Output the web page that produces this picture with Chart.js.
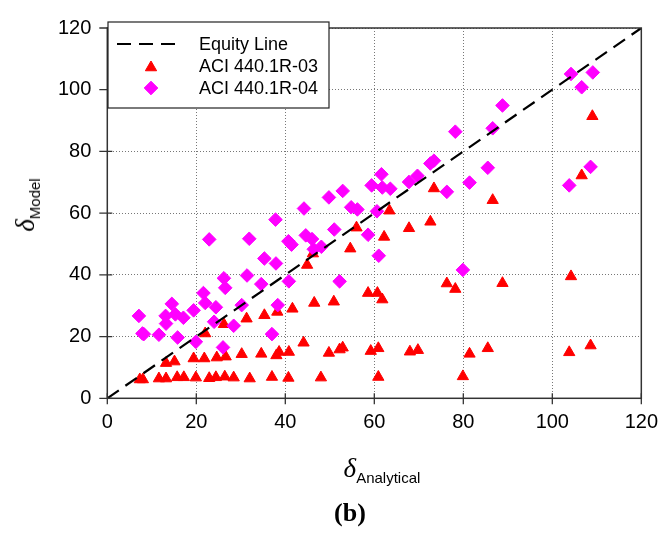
<!DOCTYPE html>
<html>
<head>
<meta charset="utf-8">
<script src="https://cdn.jsdelivr.net/npm/chart.js@4/dist/chart.umd.min.js"></script>
<style>
  html, body { margin: 0; padding: 0; background: #fff; }
  #wrap { position: relative; width: 670px; height: 540px; }
  #c { position: absolute; left: 0; top: 0; }
  .ttl { position: absolute; white-space: nowrap; color: #000; line-height: 1; }
  .ttl i { font-family: "Liberation Serif", "DejaVu Serif", serif; font-size: 27px; }
  .ttl sub { font-family: "Liberation Sans", Arial, sans-serif; font-size: 15px; vertical-align: -6px; }
  #ytitle { left: 27px; top: 205px; transform: translate(-50%, -50%) rotate(-90deg); }
  #xtitle { left: 382px; top: 470px; transform: translate(-50%, -50%); }
  #cap { position: absolute; left: 350px; top: 513px; transform: translate(-50%, -50%);
         font-family: "Liberation Serif", "DejaVu Serif", serif; font-weight: bold; font-size: 26px; }
</style>
</head>
<body>
<div id="wrap">
  <canvas id="c" width="670" height="540"></canvas>
  <div id="ytitle" class="ttl"><i>δ</i><sub>Model</sub></div>
  <div id="xtitle" class="ttl"><i>δ</i><sub>Analytical</sub></div>
  <div id="cap">(b)</div>
</div>
<script>
// ---- Data ----
const equityX = [0, 120];
const equityY = [0, 120];

const aci03X = [7.3,8.0,11.6,13.2,15.7,17.2,19.9,22.9,24.4,26.4,28.4,32.0,37.0,40.7,48.0,60.9,79.9,
  13.2,15.1,19.4,21.8,24.6,26.6,30.2,34.6,38.0,38.6,40.8,44.1,49.8,52.2,52.9,59.2,60.9,68.0,69.8,81.4,85.5,103.8,108.6,
  22.0,26.2,31.3,35.3,38.2,41.6,46.5,50.9,58.6,60.7,61.8,76.3,78.2,88.8,104.2,
  44.9,46.2,54.6,56.0,62.2,63.4,67.8,72.6,73.4,86.6,106.6,109.0];
const aci03Y = [6.1,6.1,6.4,6.4,6.8,6.8,6.7,6.5,6.8,7.0,6.7,6.4,6.9,6.6,6.7,6.9,7.1,
  11.4,11.9,12.9,12.9,13.2,13.5,14.3,14.4,13.9,15.0,15.0,18.0,14.7,15.8,16.4,15.3,16.2,15.1,15.6,14.4,16.2,14.9,17.1,
  21.0,24.0,25.8,26.9,28.0,29.0,30.9,31.3,34.1,34.1,32.0,37.2,35.4,37.3,39.5,
  43.2,46.9,48.5,55.3,52.3,60.8,55.1,57.2,68.0,64.2,72.2,91.4];

const aci04X = [7.1,7.9,8.2,11.6,13.1,13.2,14.5,15.3,17.1,15.8,19.4,19.9,21.6,22.0,22.9,24.4,24.0,26.0,26.2,26.5,
  28.4,30.2,31.4,31.9,34.6,35.3,37.0,37.8,37.9,38.3,40.8,40.7,41.4,44.2,44.6,46.0,46.4,48.1,49.8,52.9,
  51.0,52.2,54.8,56.2,58.6,59.4,61.6,61.8,63.6,60.6,61.0,67.8,69.7,72.6,73.4,78.2,81.4,76.3,88.8,86.6,
  85.5,79.9,104.2,106.6,109.1,103.8,108.6];
const aci04Y = [26.7,21.0,20.8,20.6,26.7,24.2,30.6,27.2,26.1,19.7,28.5,18.3,34.1,30.9,51.5,29.5,24.8,16.5,38.9,35.8,
  23.5,30.2,39.8,51.7,37.0,45.3,20.8,57.9,43.7,30.2,37.9,50.9,49.8,61.5,52.8,51.6,48.3,49.1,65.1,67.2,
  54.7,37.9,61.9,61.2,53.0,69.0,72.6,68.3,67.9,60.6,46.2,70.1,72.1,76.1,77.0,86.4,69.9,66.9,94.9,87.5,
  74.7,41.6,105.1,100.8,105.6,69.0,75.0];

const seriesNames = ['Equity Line', 'ACI 440.1R-03', 'ACI 440.1R-04'];
const axisMin = 0, axisMax = 120, axisStep = 20;

const pts = (xs, ys) => xs.map((x, i) => ({ x: x, y: ys[i] }));

const FONT = '"Liberation Sans", Arial, sans-serif';

// frame + crossing tick marks
const framePlugin = {
  id: 'frame',
  afterDraw(chart) {
    const { ctx, chartArea: a, scales } = chart;
    ctx.save();
    ctx.strokeStyle = '#333';
    ctx.lineWidth = 1.5;
    ctx.setLineDash([]);
    ctx.strokeRect(a.left, a.top, a.right - a.left, a.bottom - a.top);
    ctx.lineWidth = 1.3;
    ctx.beginPath();
    for (let v = axisMin; v <= axisMax; v += axisStep) {
      const px = scales.x.getPixelForValue(v);
      ctx.moveTo(px, a.bottom - 5); ctx.lineTo(px, a.bottom + 6);
      const py = scales.y.getPixelForValue(v);
      ctx.moveTo(a.left - 8, py); ctx.lineTo(a.left + 5, py);
    }
    ctx.stroke();
    ctx.restore();
  }
};

// legend box inside plot area
const legendPlugin = {
  id: 'boxLegend',
  afterDraw(chart) {
    const { ctx } = chart;
    const ds = chart.data.datasets;
    const x0 = 108, y0 = 22, w = 221, h = 86;
    ctx.save();
    ctx.fillStyle = '#fff';
    ctx.fillRect(x0, y0, w, h);
    ctx.strokeStyle = '#222';
    ctx.lineWidth = 1.2;
    ctx.strokeRect(x0, y0, w, h);
    const rows = [44, 66, 88];
    const symX = 151;
    ctx.font = '18px ' + FONT;
    ctx.textBaseline = 'middle';
    ctx.fillStyle = '#000';
    ds.forEach((d, i) => {
      const y = rows[i];
      if (d.showLine) {
        ctx.save();
        ctx.strokeStyle = d.borderColor;
        ctx.lineWidth = d.borderWidth;
        ctx.setLineDash(d.borderDash);
        ctx.beginPath();
        ctx.moveTo(117, y); ctx.lineTo(178, y);
        ctx.stroke();
        ctx.restore();
      } else {
        ctx.save();
        ctx.fillStyle = d.backgroundColor;
        ctx.strokeStyle = d.borderColor;
        ctx.lineWidth = 1;
        Chart.helpers.drawPoint(ctx, { pointStyle: d.pointStyle, radius: d.pointRadius, borderWidth: 1, rotation: 0 }, symX, y + (d.pointStyle === 'triangle' ? 1.5 : 0));
        ctx.restore();
      }
      ctx.fillStyle = '#000';
      ctx.fillText(d.label, 199, y + 1);
    });
    ctx.restore();
  }
};

const tickFont = { family: FONT, size: 20 };

new Chart(document.getElementById('c').getContext('2d'), {
  type: 'scatter',
  data: {
    datasets: [
      { label: seriesNames[0], data: pts(equityX, equityY), showLine: true, borderColor: '#000',
        backgroundColor: '#000', borderWidth: 2.2, borderDash: [14, 8], pointRadius: 0, order: 0 },
      { label: seriesNames[1], data: pts(aci03X, aci03Y), pointStyle: 'triangle', pointRadius: 6.5,
        backgroundColor: '#ff0000', borderColor: '#ff0000', borderWidth: 1, order: 2 },
      { label: seriesNames[2], data: pts(aci04X, aci04Y), pointStyle: 'rectRot', pointRadius: 6.8,
        backgroundColor: '#ff00ff', borderColor: '#ff00ff', borderWidth: 1, order: 1 }
    ]
  },
  options: {
    responsive: false,
    animation: false,
    devicePixelRatio: 1,
    layout: { padding: { top: 23, right: 23, left: 0, bottom: 0 } },
    plugins: { legend: { display: false }, tooltip: { enabled: false } },
    scales: {
      x: {
        type: 'linear', min: axisMin, max: axisMax,
        ticks: { stepSize: axisStep, font: tickFont, color: '#000', padding: 12, maxRotation: 0 },
        grid: { color: '#777', lineWidth: 1, drawTicks: false },
        border: { display: false, dash: [1, 2] },
        afterFit: s => { s.height = 141.7; }
      },
      y: {
        type: 'linear', min: axisMin, max: axisMax,
        ticks: { stepSize: axisStep, font: tickFont, color: '#000', padding: 16 },
        grid: { color: '#777', lineWidth: 1, drawTicks: false },
        border: { display: false, dash: [1, 2] },
        afterFit: s => { s.width = 107.3; }
      }
    }
  },
  plugins: [framePlugin, legendPlugin]
});
</script>
</body>
</html>
